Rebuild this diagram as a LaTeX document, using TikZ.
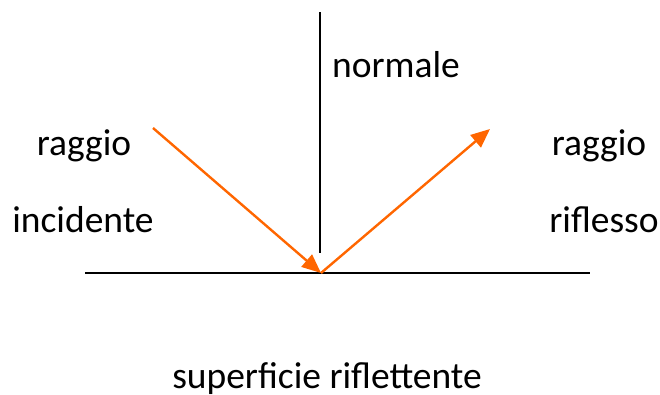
\documentclass[tikz,border=0pt]{standalone}
\usepackage{fontspec}
\setmainfont{Carlito}
\usetikzlibrary{arrows.meta}
\definecolor{raggiocol}{RGB}{255,102,0}
\begin{document}
\begin{tikzpicture}[x=1pt,y=-1pt,>={Triangle[length=19pt,width=16pt]},
 etichetta/.style={font=\fontsize{37.5}{42}\selectfont,inner sep=0pt,anchor=base},
 raggio/.style={draw=raggiocol,line width=2.4pt,->}]
\useasboundingbox (0,0) rectangle (660,394);
\coordinate (P) at (321,273); \coordinate (N1) at (320,12); \coordinate (N2) at (320,253);
\coordinate (S1) at (85,273); \coordinate (S2) at (590,273);
\coordinate (I) at (153,128); \coordinate (R) at (490,129);
\draw[line width=1.4pt] (S1)--(S2); \draw[line width=1.8pt] (N1)--(N2);
\draw[raggio] (I)--(P); \draw[raggio] (P)--(R);
\node[etichetta] (norm) at (396,77) {normale};
\node[etichetta] (rag1) at (84,155) {raggio}; \node[etichetta] (inc) at (83,232) {incidente};
\node[etichetta] (rag2) at (599,155) {raggio}; \node[etichetta] (rif) at (604,232) {riflesso};
\node[etichetta] (sup) at (327,388) {superficie riflettente};
\end{tikzpicture}
\end{document}
